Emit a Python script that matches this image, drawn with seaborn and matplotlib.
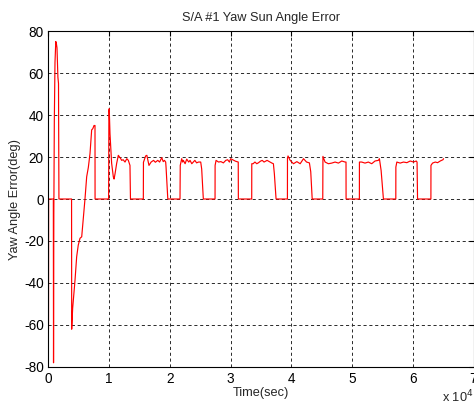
import numpy as np
import pandas as pd
import matplotlib
matplotlib.use("Agg")
import matplotlib.pyplot as plt
import seaborn as sns

# Yaw sun angle error of solar array #1; time in seconds, error in degrees.
# Startup transient: initial swing, reacquisition ramp, idle until 9900 s.
startup_t = [0, 20, 800, 830, 860, 880, 960, 1070, 1200, 1300, 1400, 1550, 1650, 1720,
             3800, 3820, 3980, 4100, 4370, 4500, 4640, 4900, 5190, 5470, 5740,
             6010, 6290, 6560, 6840, 7110, 7300, 7500, 7660, 7670]
startup_err = [-62, 0, 0, -78, -38, -7, 37, 65, 75, 74, 72, 58, 55, 0,
               0, -62, -52, -48, -38.6, -33, -27.5, -22, -18.7, -18, -9.2,
               0, 10.6, 15, 21.7, 32.9, 33.5, 35, 35, 0]

# Tracking passes: each starts and ends at zero error.
pass1_t = [9900, 9950, 10000, 10130, 10400, 10680, 10800, 10960, 11230, 11500, 11700,
           11900, 12050, 12300, 12600, 12900, 13150, 13420, 13500]
pass1_err = [0, 42, 43, 31, 17, 10.5, 9.5, 12, 17, 20.8, 20, 19.2, 18.4, 18.7, 17.6,
             19.2, 18.4, 16, 0]

pass2_t = [15620, 15640, 16000, 16200, 16550, 16900, 17300, 17600, 18000, 18300,
           18650, 18900, 19100, 19300, 19360, 19650]
pass2_err = [0, 17.5, 20.5, 20.8, 16, 17.6, 18.4, 17.5, 18.4, 17.6,
             19.7, 17.8, 18.4, 17.6, 15.2, 0]

pass3_t = [21660, 21700, 21940, 22100, 22210, 22500, 22770, 22900, 23100, 23310,
           23600, 23860, 24100, 24400, 24700, 25070, 25230, 25500]
pass3_err = [0, 16, 19.2, 17.6, 18.4, 16.8, 19, 18.4, 17.6, 18.4,
             16.8, 17.6, 18.4, 17.2, 17.6, 17.6, 14.3, 0]

pass4_t = [27430, 27440, 27600, 28000, 28400, 28800, 29200, 29500, 29800, 30000,
           30400, 30800, 31250, 31270]
pass4_err = [0, 16, 18.4, 17.6, 17.8, 17.2, 18.4, 18.7, 17.6, 19.2,
             18.6, 18.0, 17.6, 0]

pass5_t = [33470, 33480, 33700, 34000, 34300, 34600, 34900, 35200, 35500, 36000,
           36500, 36800, 37040, 37200, 37480]
pass5_err = [0, 16.8, 16.8, 17.6, 16.8, 17.3, 18, 18.4, 17.6, 18.4,
             17.6, 17.1, 16.8, 12, 0]

pass6_t = [39350, 39360, 39450, 39800, 40350, 40900, 41450, 42000, 42500, 42970,
           43190, 43430]
pass6_err = [0, 19.5, 20.5, 18.4, 16.8, 17.8, 16.8, 19.2, 17.6, 17.2,
             13, 0]

pass7_t = [45170, 45200, 45550, 46100, 46650, 47200, 47750, 48300, 48850, 49000, 49010]
pass7_err = [0, 20.3, 17.6, 16.8, 17.1, 17.6, 17.1, 18.1, 17.6, 17.6, 0]

pass8_t = [51200, 51210, 51580, 52130, 52680, 53230, 53780, 54330, 54500, 54780, 55160]
pass8_err = [0, 17.6, 17.6, 17.1, 17.6, 16.8, 18.1, 18.4, 19.2, 13.6, 0]

pass9_t = [57200, 57210, 57370, 57920, 58470, 59020, 59570, 60120, 60560, 60700, 60780]
pass9_err = [0, 15.2, 17.6, 17.1, 17.6, 17.3, 18.1, 17.6, 18.1, 17.6, 0]

pass10_t = [62980, 62990, 63250, 63700, 64080, 64520, 64960, 65070]
pass10_err = [0, 16, 17.1, 17.6, 17.3, 18.1, 18.7, 19.2]

x_ticks = [0, 1, 2, 3, 4, 5, 6, 7]
y_ticks = [-80, -60, -40, -20, 0, 20, 40, 60, 80]

time_s = (startup_t + pass1_t + pass2_t + pass3_t + pass4_t + pass5_t
          + pass6_t + pass7_t + pass8_t + pass9_t + pass10_t)
err_deg = (startup_err + pass1_err + pass2_err + pass3_err + pass4_err + pass5_err
           + pass6_err + pass7_err + pass8_err + pass9_err + pass10_err)

df = pd.DataFrame({"t": np.array(time_s, dtype=float) / 1e4, "err": err_deg})

sns.set_style("white")
plt.rcParams["font.family"] = ["Liberation Sans", "DejaVu Sans"]
plt.rcParams["font.size"] = 9.2

fig = plt.figure(figsize=(4.74, 4.07), dpi=100)
ax = fig.add_axes([0.1023, 0.0983, 0.8967, 0.8255])

sns.lineplot(data=df, x="t", y="err", color="#ff0000", linewidth=0.85,
             estimator=None, sort=False, ax=ax)

ax.set_xlim(0, 7)
ax.set_ylim(-80, 80)
ax.set_xticks(x_ticks)
ax.set_yticks(y_ticks)
ax.set_xticklabels([str(v) for v in x_ticks])
ax.set_yticklabels([str(v) for v in y_ticks])

ax.grid(True, color="#2a2a2a", linewidth=0.7, linestyle=(0, (3.2, 2.8)))
ax.set_axisbelow(True)
for s in ax.spines.values():
    s.set_color("black")
    s.set_linewidth(0.8)
ax.tick_params(direction="in", length=3.5, width=0.8, colors="black",
               top=True, right=True, labelsize=9.8, pad=3.5)

ax.set_title("S/A #1 Yaw Sun Angle Error", fontsize=9.2, pad=7)
ax.set_xlabel("Time(sec)", fontsize=9.2, labelpad=1)
ax.set_ylabel("Yaw Angle Error(deg)", fontsize=9.2, labelpad=2)
fig.text(0.998, 0.003, r"x 10$^4$", ha="right", va="bottom", fontsize=9.2)

fig.savefig("out.png", dpi=100, facecolor="white")
